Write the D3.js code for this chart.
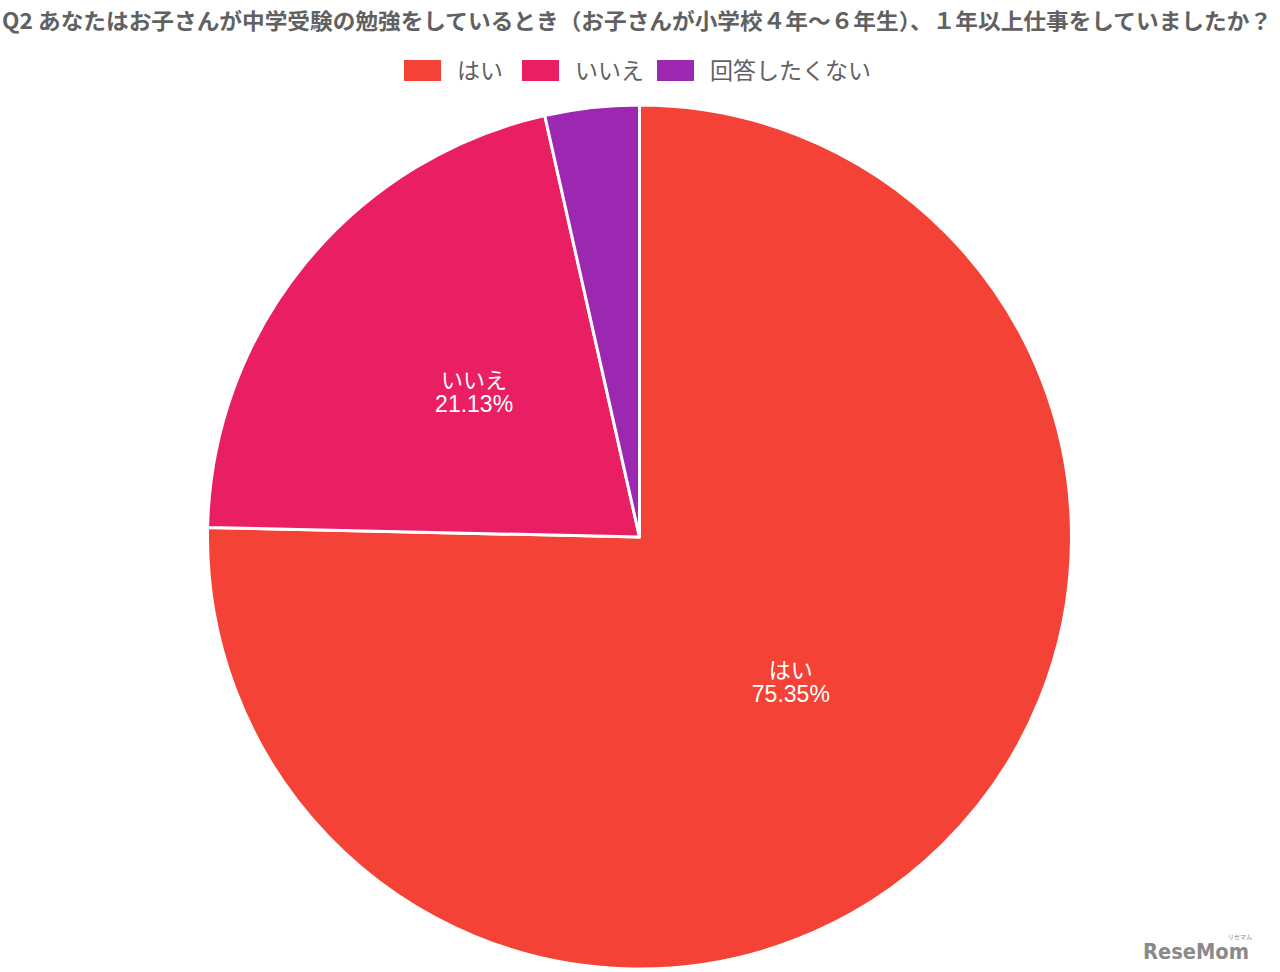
<!DOCTYPE html>
<html><head><meta charset="utf-8">
<script src="https://cdn.jsdelivr.net/npm/d3@7"></script>
<style>body{margin:0;background:#fff}svg{display:block}</style>
</head><body>
<svg id="c" width="1280" height="972"></svg>
<script>
const title = "Q2 あなたはお子さんが中学受験の勉強をしているとき（お子さんが小学校４年〜６年生）、１年以上仕事をしていましたか？";
const categories = ["はい", "いいえ", "回答したくない"];
const values = [75.35, 21.13, 3.52];
const colors = ["#F44336", "#E91E63", "#9C27B0"];

const svg = d3.select("#c");
const font = "'Noto Sans CJK JP','Noto Sans',sans-serif";
const labFont = "'Liberation Sans','Noto Sans CJK JP',sans-serif";

svg.append("text").attr("x", 2).attr("y", 29)
  .attr("font-family", font).attr("font-size", 22).attr("font-weight", "bold")
  .attr("fill", "#616161").attr("textLength", 1270).attr("lengthAdjust", "spacingAndGlyphs")
  .text(title);

// legend
const legX = [404, 522, 657];
const lg = svg.append("g");
categories.forEach((c, i) => {
  lg.append("rect").attr("x", legX[i]).attr("y", 60).attr("width", 37).attr("height", 21).attr("fill", colors[i]);
  lg.append("text").attr("x", legX[i] + 53).attr("y", 79)
    .attr("font-family", font).attr("font-size", 23).attr("fill", "#616161").text(c);
});

const cx = 639.5, cy = 537, R = 432;
const pie = d3.pie().sort(null).value(d => d)(values);
const arc = d3.arc().innerRadius(0).outerRadius(R);
const g = svg.append("g").attr("transform", `translate(${cx},${cy})`);
g.selectAll("path").data(pie).join("path")
  .attr("d", arc).attr("fill", (d, i) => colors[i])
  .attr("stroke", "#fff").attr("stroke-width", 3).attr("stroke-linejoin", "round");

const lab = d3.arc().innerRadius(215).outerRadius(215);
pie.forEach((d, i) => {
  if (values[i] < 10) return;
  const [x, y] = lab.centroid(d);
  g.append("text").attr("text-anchor", "middle").attr("x", x + 1).attr("y", y - 13)
    .attr("font-family", labFont).attr("font-size", 22).attr("fill", "#fff").text(categories[i]);
  g.append("text").attr("text-anchor", "middle").attr("x", x + 1).attr("y", y + 11)
    .attr("font-family", labFont).attr("font-size", 23).attr("fill", "#fff")
    .text(values[i].toFixed(2) + "%");
});

// watermark
svg.append("text").attr("x", 1143).attr("y", 959)
  .attr("font-family", "'DejaVu Sans',sans-serif").attr("font-size", 22).attr("font-weight", "bold")
  .attr("fill", "#8a8a8a").attr("textLength", 106).attr("lengthAdjust", "spacingAndGlyphs").text("ReseMom");
svg.append("text").attr("x", 1240).attr("y", 939).attr("text-anchor", "middle")
  .attr("font-family", font).attr("font-size", 6).attr("fill", "#8a8a8a").text("リセマム");
</script>
</body></html>
